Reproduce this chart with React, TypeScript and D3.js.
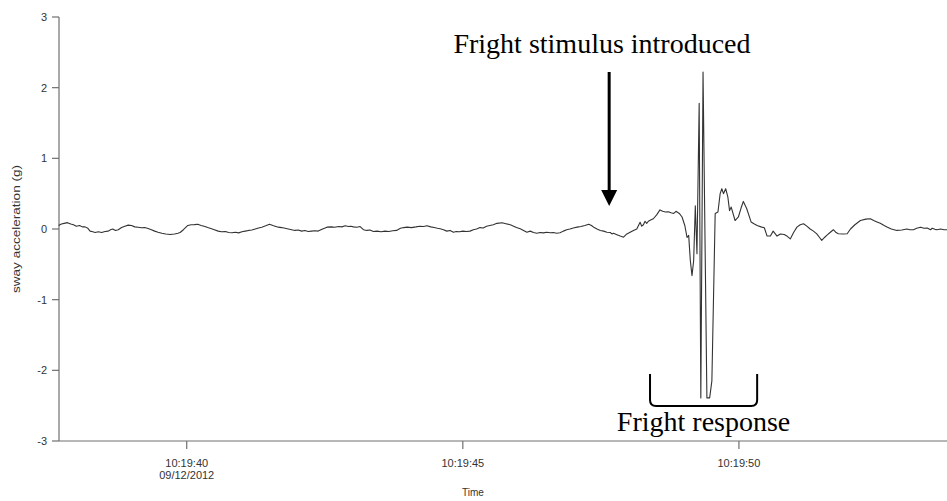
import React from "react";
import * as d3 from "d3";

// seconds relative to 10:19:40
const times: number[] = [
  -2.32, -2.27, -2.22, -2.16, -2.10, -2.05, -2.00, -1.94, -1.89, -1.84, -1.79, -1.75, -1.70, -1.66, -1.60, -1.54,
  -1.48, -1.42, -1.38, -1.34, -1.29, -1.24, -1.18, -1.12, -1.06, -1.00, -0.94, -0.88, -0.82, -0.76, -0.70, -0.64,
  -0.58, -0.52, -0.45, -0.38, -0.30, -0.22, -0.16, -0.12, -0.06, 0.02, 0.08, 0.14, 0.20, 0.26, 0.33, 0.38,
  0.45, 0.50, 0.57, 0.63, 0.70, 0.76, 0.82, 0.88, 0.94, 1.00, 1.06, 1.12, 1.18, 1.24, 1.30, 1.36,
  1.43, 1.50, 1.56, 1.60, 1.66, 1.72, 1.78, 1.84, 1.90, 1.96, 2.02, 2.08, 2.14, 2.20, 2.26, 2.32,
  2.38, 2.46, 2.54, 2.62, 2.68, 2.75, 2.81, 2.87, 2.93, 2.97, 3.02, 3.08, 3.14, 3.20, 3.26, 3.32,
  3.38, 3.45, 3.52, 3.59, 3.66, 3.73, 3.80, 3.87, 3.93, 3.99, 4.07, 4.15, 4.22, 4.29, 4.35, 4.42,
  4.48, 4.54, 4.59, 4.65, 4.71, 4.77, 4.83, 4.88, 4.94, 5.00, 5.07, 5.13, 5.19, 5.25, 5.31, 5.37,
  5.43, 5.49, 5.55, 5.62, 5.71, 5.78, 5.86, 5.92, 5.97, 6.04, 6.10, 6.16, 6.22, 6.28, 6.34, 6.40,
  6.46, 6.52, 6.58, 6.64, 6.70, 6.76, 6.82, 6.88, 6.94, 7.00, 7.07, 7.14, 7.21, 7.28, 7.33, 7.38,
  7.43, 7.49, 7.55, 7.61, 7.67, 7.70, 7.73, 7.79, 7.85, 7.91, 7.97, 8.03, 8.09, 8.15, 8.21, 8.24,
  8.27, 8.30, 8.33, 8.36, 8.41, 8.45, 8.51, 8.57, 8.62, 8.67, 8.72, 8.77, 8.82, 8.86, 8.92, 8.97,
  9.02, 9.06, 9.09, 9.12, 9.15, 9.18, 9.21, 9.24, 9.28, 9.31, 9.35, 9.42, 9.47, 9.51, 9.57, 9.62,
  9.66, 9.69, 9.72, 9.76, 9.80, 9.83, 9.86, 9.93, 9.99, 10.04, 10.08, 10.14, 10.22, 10.28, 10.33, 10.40,
  10.46, 10.51, 10.57, 10.62, 10.69, 10.75, 10.82, 10.87, 10.93, 10.99, 11.05, 11.11, 11.17, 11.23, 11.29, 11.35,
  11.41, 11.46, 11.50, 11.55, 11.59, 11.65, 11.71, 11.76, 11.80, 11.88, 11.96, 12.02, 12.10, 12.20, 12.30, 12.38,
  12.44, 12.50, 12.56, 12.63, 12.69, 12.76, 12.86, 12.95, 13.04, 13.10, 13.16, 13.22, 13.29, 13.35, 13.41, 13.47,
  13.50, 13.55, 13.59, 13.65, 13.72, 13.77,
];

// sway acceleration (g)
const sway: number[] = [
  0.05, 0.07, 0.08, 0.09, 0.07, 0.06, 0.04, 0.05, 0.03, 0.03, 0.01, -0.03, -0.04, -0.05, -0.04, -0.05,
  -0.035, -0.03, -0.01, 0.0, -0.02, -0.01, 0.02, 0.04, 0.055, 0.05, 0.03, 0.025, 0.017, 0.02, 0.007, -0.01,
  -0.03, -0.045, -0.06, -0.07, -0.078, -0.07, -0.06, -0.05, -0.01, 0.05, 0.06, 0.062, 0.068, 0.05, 0.035, 0.02,
  0.003, -0.01, -0.03, -0.04, -0.035, -0.05, -0.054, -0.045, -0.055, -0.04, -0.03, -0.02, -0.015, 0.0, 0.015, 0.026,
  0.045, 0.068, 0.05, 0.04, 0.026, 0.02, 0.01, 0.0, -0.01, -0.02, -0.015, -0.03, -0.02, -0.035, -0.03, -0.025,
  -0.03, 0.0, 0.026, 0.03, 0.025, 0.035, 0.03, 0.045, 0.035, 0.04, 0.03, 0.025, 0.035, -0.01, -0.02, -0.015,
  -0.035, -0.03, -0.04, -0.03, -0.035, -0.025, -0.02, 0.01, 0.02, 0.026, 0.02, 0.03, 0.04, 0.035, 0.045, 0.03,
  0.02, 0.01, 0.003, -0.01, -0.03, -0.02, -0.045, -0.035, -0.04, -0.03, -0.035, -0.03, -0.01, 0.0, 0.02, 0.015,
  0.04, 0.05, 0.06, 0.08, 0.088, 0.075, 0.06, 0.04, 0.02, 0.003, -0.02, -0.045, -0.03, -0.05, -0.06, -0.05,
  -0.055, -0.045, -0.054, -0.05, -0.06, -0.054, -0.03, -0.01, 0.0, 0.015, 0.026, 0.035, 0.05, 0.068, 0.05, 0.02,
  0.0, -0.02, -0.03, -0.045, -0.05, -0.07, -0.06, -0.08, -0.1, -0.116, -0.07, -0.045, -0.02, 0.0, 0.096, 0.04,
  0.06, 0.11, 0.08, 0.11, 0.13, 0.145, 0.2, 0.27, 0.25, 0.24, 0.245, 0.23, 0.22, 0.25, 0.22, 0.17,
  0.05, -0.12, -0.09, -0.45, -0.66, -0.45, 0.33, -0.35, 1.78, -2.39, 2.22, -2.39, -2.39, -2.15, 0.22, 0.24,
  0.5, 0.57, 0.5, 0.57, 0.45, 0.26, 0.31, 0.12, 0.17, 0.3, 0.39, 0.29, 0.1, 0.07, 0.05, 0.03,
  0.017, -0.1, -0.1, -0.03, -0.1, -0.07, -0.078, -0.1, -0.14, -0.05, 0.026, 0.06, 0.074, 0.04, 0.0, -0.03,
  -0.068, -0.12, -0.16, -0.12, -0.09, -0.05, -0.01, -0.05, -0.068, -0.07, -0.068, 0.0, 0.06, 0.12, 0.14, 0.145,
  0.12, 0.1, 0.08, 0.05, 0.026, 0.0, -0.02, -0.015, 0.0, -0.01, -0.01, 0.01, 0.026, 0.01, 0.015, -0.01,
  0.01, -0.005, -0.01, 0.0, -0.01, -0.01,
];

const yTicks: number[] = [3, 2, 1, 0, -1, -2, -3];
const xTickSeconds: number[] = [0, 5, 10];
const xTickLabels: string[][] = [["10:19:40", "09/12/2012"], ["10:19:45"], ["10:19:50"]];
const yLabel = "sway acceleration (g)";
const xLabel = "Time";
const stimulusLabel = "Fright stimulus introduced";
const responseLabel = "Fright response";
const stimulusTime = 7.65; // seconds
const responseStart = 8.39;
const responseEnd = 10.33;

const W = 947;
const H = 501;
const base = new Date(2012, 8, 12, 10, 19, 40).getTime();
const toDate = (s: number) => new Date(base + s * 1000);

export default function App() {
  const x = d3.scaleTime().domain([toDate(-2.313), toDate(13.768)]).range([59, 947]);
  const y = d3.scaleLinear().domain([-3, 3]).range([441, 17]);
  const data = times.map((t, i) => ({ t: toDate(t), v: sway[i] }));
  const line = d3
    .line<{ t: Date; v: number }>()
    .x((d) => x(d.t))
    .y((d) => y(d.v));
  const axisColor = "#707070";
  const textColor = "#333";
  const sans = "Arial, 'Liberation Sans', sans-serif";
  const serif = "'Times New Roman', 'Liberation Serif', serif";

  const ax = x(toDate(stimulusTime));
  const bx0 = x(toDate(responseStart));
  const bx1 = x(toDate(responseEnd));
  const bTop = 374;
  const bBot = 406;
  const r = 6;

  return (
    <svg width={W} height={H} style={{ position: "absolute", left: 0, top: 0, background: "#fff" }}>
      {/* axes */}
      <line x1={59} x2={59} y1={y(3)} y2={y(-3)} stroke={axisColor} strokeWidth={1.2} />
      <line x1={59} x2={W} y1={y(-3)} y2={y(-3)} stroke={axisColor} strokeWidth={1.2} />
      {yTicks.map((v) => (
        <g key={v}>
          <line x1={52} x2={59} y1={y(v)} y2={y(v)} stroke={axisColor} strokeWidth={1.2} />
          <text x={47} y={y(v)} dy="0.35em" textAnchor="end" fontFamily={sans} fontSize={11} fill={textColor}>
            {v < 0 ? "-" + Math.abs(v) : String(v)}
          </text>
        </g>
      ))}
      {xTickSeconds.map((s, i) => (
        <g key={s}>
          <line x1={x(toDate(s))} x2={x(toDate(s))} y1={y(-3)} y2={y(-3) + 8} stroke={axisColor} strokeWidth={1.2} />
          {xTickLabels[i].map((l, j) => (
            <text key={j} x={x(toDate(s))} y={467 + j * 12} textAnchor="middle" fontFamily={sans} fontSize={11} fill={textColor}>
              {l}
            </text>
          ))}
        </g>
      ))}
      <text x={473} y={496} textAnchor="middle" fontFamily={sans} fontSize={10} fill={textColor}>
        {xLabel}
      </text>
      <text
        transform={`translate(20, ${y(0)}) rotate(-90)`}
        textAnchor="middle"
        fontFamily={sans}
        fontSize={10.5}
        textLength={128}
        lengthAdjust="spacingAndGlyphs"
        fill={textColor}
      >
        {yLabel}
      </text>

      {/* series */}
      <path d={line(data) || ""} fill="none" stroke="#333" strokeWidth={1.1} strokeLinejoin="round" />

      {/* annotations */}
      <text x={602} y={53} textAnchor="middle" fontFamily={serif} fontSize={28} fill="#000">
        {stimulusLabel}
      </text>
      <line x1={ax} x2={ax} y1={72} y2={192} stroke="#000" strokeWidth={3} />
      <path d={`M${ax - 8},190 L${ax + 8},190 L${ax},206 Z`} fill="#000" />

      <path
        d={`M${bx0},${bTop} L${bx0},${bBot - r} Q${bx0},${bBot} ${bx0 + r},${bBot} L${bx1 - r},${bBot} Q${bx1},${bBot} ${bx1},${bBot - r} L${bx1},${bTop}`}
        fill="none"
        stroke="#000"
        strokeWidth={2}
      />
      <text x={(bx0 + bx1) / 2} y={431} textAnchor="middle" fontFamily={serif} fontSize={28} fill="#000">
        {responseLabel}
      </text>
    </svg>
  );
}
